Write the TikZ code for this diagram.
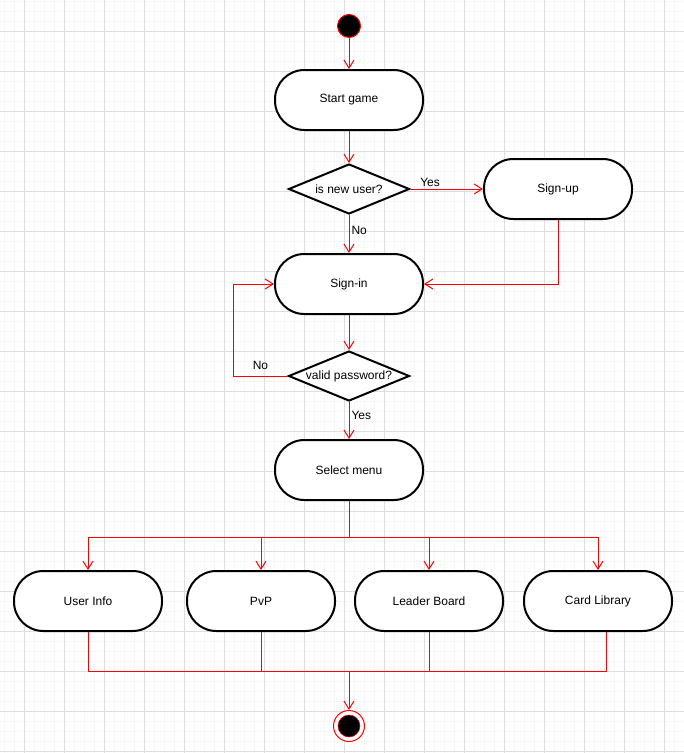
\documentclass[tikz,border=0pt]{standalone}
\usepackage{fontspec}
\setmainfont{Liberation Sans}
\usetikzlibrary{arrows.meta}
\usetikzlibrary{shapes.geometric}
\tikzset{flow/.style = {draw=mred, line width=0.75pt,
                        -{Straight Barb[length=6pt,width=7.5pt]}},
         wire/.style = {draw=mred, line width=0.75pt},
         activity/.style = {draw, line width=1.5pt, rounded corners=22pt, fill=white,
                            minimum width=111pt, minimum height=45pt, inner sep=0pt},
         decision/.style = {draw, diamond, line width=1.5pt, fill=white,
                            minimum width=90.75pt, minimum height=37.5pt, inner sep=0pt},
         guard/.style = {inner sep=1.5pt}}
\definecolor{mred}{rgb}{1, 0, 0}
\definecolor{gridminor}{rgb}{0.968, 0.968, 0.968}
\definecolor{gridmajor}{rgb}{0.87, 0.87, 0.87}

\begin{document}
\begin{tikzpicture}[x=0.75pt, y=-0.75pt, font=\fontsize{9}{11}\selectfont]
    \useasboundingbox [fill=white] (0, 0) rectangle (684, 753);

    % grid
    \foreach \i in {4, 14, ..., 684} \draw [gridminor, line width=0.75pt] (\i, 0) -- (\i, 753);
    \foreach \j in {1, 11, ..., 753} \draw [gridminor, line width=0.75pt] (0, \j) -- (684, \j);
    \foreach \i in {24, 64, ..., 684} \draw [gridmajor, line width=0.75pt] (\i, 0) -- (\i, 753);
    \foreach \j in {31, 71, ..., 753} \draw [gridmajor, line width=0.75pt] (0, \j) -- (684, \j);

    \node [circle, draw=mred, fill=black, line width=0.75pt, minimum size=17.25pt, inner sep=0pt] (start) at (349, 26) {};
    \node [activity] (game) at (349, 100) {Start game};
    \node [decision, label={center:is new user?}] (newuser) at (349, 189) {};
    \node [activity] (signup) at (558, 189) {Sign-up};
    \node [activity] (signin) at (349, 284) {Sign-in};
    \node [decision, label={center:valid password?}] (password) at (349, 376) {};
    \node [activity] (menu) at (349, 470) {Select menu};

    \node [activity] (info) at (88, 601) {User Info};
    \node [activity] (pvp) at (261, 601) {PvP};
    \node [activity] (board) at (429, 601) {Leader Board};
    \node [activity] (library) at (598, 601) {Card Library};

    \node [circle, draw=mred, fill=white, line width=0.75pt, minimum size=23.25pt, inner sep=0pt] (end) at (349, 726) {};
    \node [circle, draw=mred, fill=black, line width=0.4pt, minimum size=16.5pt, inner sep=0pt] (endcore) at (349, 726) {};

    \coordinate (split) at (349, 537);
    \coordinate (join) at (349, 671);

    \draw [flow] (start) -- (game);
    \draw [flow] (game) -- (newuser);
    \draw [flow] (newuser) -- node [guard, above, pos=0.27] {Yes} (signup);
    \draw [flow] (newuser) -- node [guard, right, pos=0.4] {No} (signin);
    \draw [flow] (signup) |- (signin);
    \draw [flow] (signin) -- (password);
    \draw [flow] (password.west) -- ++(-54, 0) node [guard, midway, above, yshift=3pt] {No} |- (signin.west);
    \draw [flow] (password) -- node [guard, right, pos=0.35] {Yes} (menu);

    \draw [wire] (menu) -- (split);
    \foreach \n in {info, pvp, board, library}
        \draw [flow] (split) -| (\n);

    \foreach \n in {info, pvp, board}
        \draw [wire] (\n) |- (join);
    \draw [wire] ([xshift=6pt]library.south) |- (join);
    \draw [flow] (join) -- (end);
\end{tikzpicture}
\end{document}
